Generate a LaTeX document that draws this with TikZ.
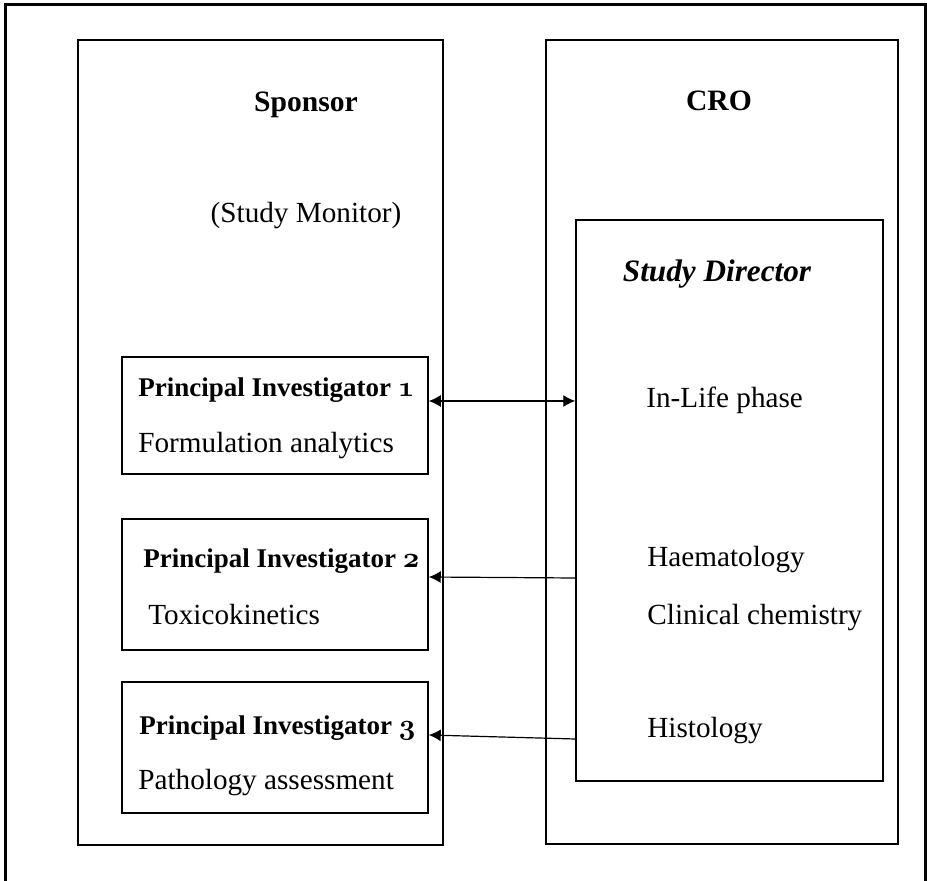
\documentclass[tikz,border=0pt]{standalone}
\usepackage{fontspec}
\setmainfont{Liberation Serif}
\usetikzlibrary{arrows.meta,fit}
\newcommand{\osnum}[1]{{\usefont{OML}{cmm}{b}{it}#1}}
\tikzset{
  box/.style={draw, line width=0.75pt, inner sep=0pt},
  frame/.style={line width=1.5pt},
  txt/.style={anchor=base west, inner sep=0pt, font=\fontsize{14.6}{17}\selectfont},
  pitxt/.style={anchor=base west, inner sep=0pt, font=\fontsize{13.5}{16}\selectfont\bfseries},
  headtxt/.style={anchor=base, inner sep=0pt, font=\fontsize{14.8}{17}\selectfont\bfseries},
  link/.style={line width=0.6pt, -{Latex[length=6pt,width=6pt]}},
  twoway/.style={line width=0.6pt, {Latex[length=6pt,width=6pt]}-{Latex[length=6pt,width=6pt]}}
}
\begin{document}
\begin{tikzpicture}[x=0.5pt, y=-0.5pt]
            \useasboundingbox (0,0) rectangle (927,881);
            \draw[frame] (5,900) -- (5,5) -- (925,5) -- (925,900);
            % the two sides
            \node[box, fit={(78,40) (443,845)}] (sponsor) {};
            \node[box, fit={(546,40) (898,844)}] (cro) {};
            \node[box, fit={(576,220) (883,781)}] (sd) {};
            \node[headtxt] (sponsortxt) at (306,112) {Sponsor};
            \node[headtxt] (crotxt) at (719,111) {CRO};
            \node[anchor=base, inner sep=0pt, font=\fontsize{14.6}{17}\selectfont] (monitor) at (306,223) {(Study Monitor)};
            \node[anchor=base, inner sep=0pt, font=\fontsize{15.6}{18}\selectfont\bfseries\itshape] (sdtxt) at (717,282) {Study Director};
            % principal investigators
            \node[box, fit={(122,357) (428,474)}] (pione) {};
            \node[box, fit={(122,519) (428,650)}] (pitwo) {};
            \node[box, fit={(122,682) (428,813)}] (pithree) {};
            \node[pitxt] (pionetxt) at (138,397) {Principal Investigator \osnum{1}};
            \node[txt] (formtxt) at (138,453) {Formulation analytics};
            \node[pitxt] (pitwotxt) at (143,568) {Principal Investigator \osnum{2}};
            \node[txt] (toxtxt) at (148,625) {Toxicokinetics};
            \node[pitxt] (pithreetxt) at (139,735) {Principal Investigator \osnum{3}};
            \node[txt] (pathtxt) at (138,790) {Pathology assessment};
            % CRO phases
            \node[txt] (inlife) at (646,408) {In-Life phase};
            \node[txt] (haem) at (647,567) {Haematology};
            \node[txt] (clin) at (647,625) {Clinical chemistry};
            \node[txt] (histo) at (647,738) {Histology};
            % links
            \draw[twoway] (pione.east |- 0,401) -- (sd.west |- 0,401);
            \draw[link] (sd.west |- 0,578) -- (pitwo.east |- 0,577);
            \draw[link] (sd.west |- 0,739) -- (pithree.east |- 0,735);
          \end{tikzpicture}
\end{document}
